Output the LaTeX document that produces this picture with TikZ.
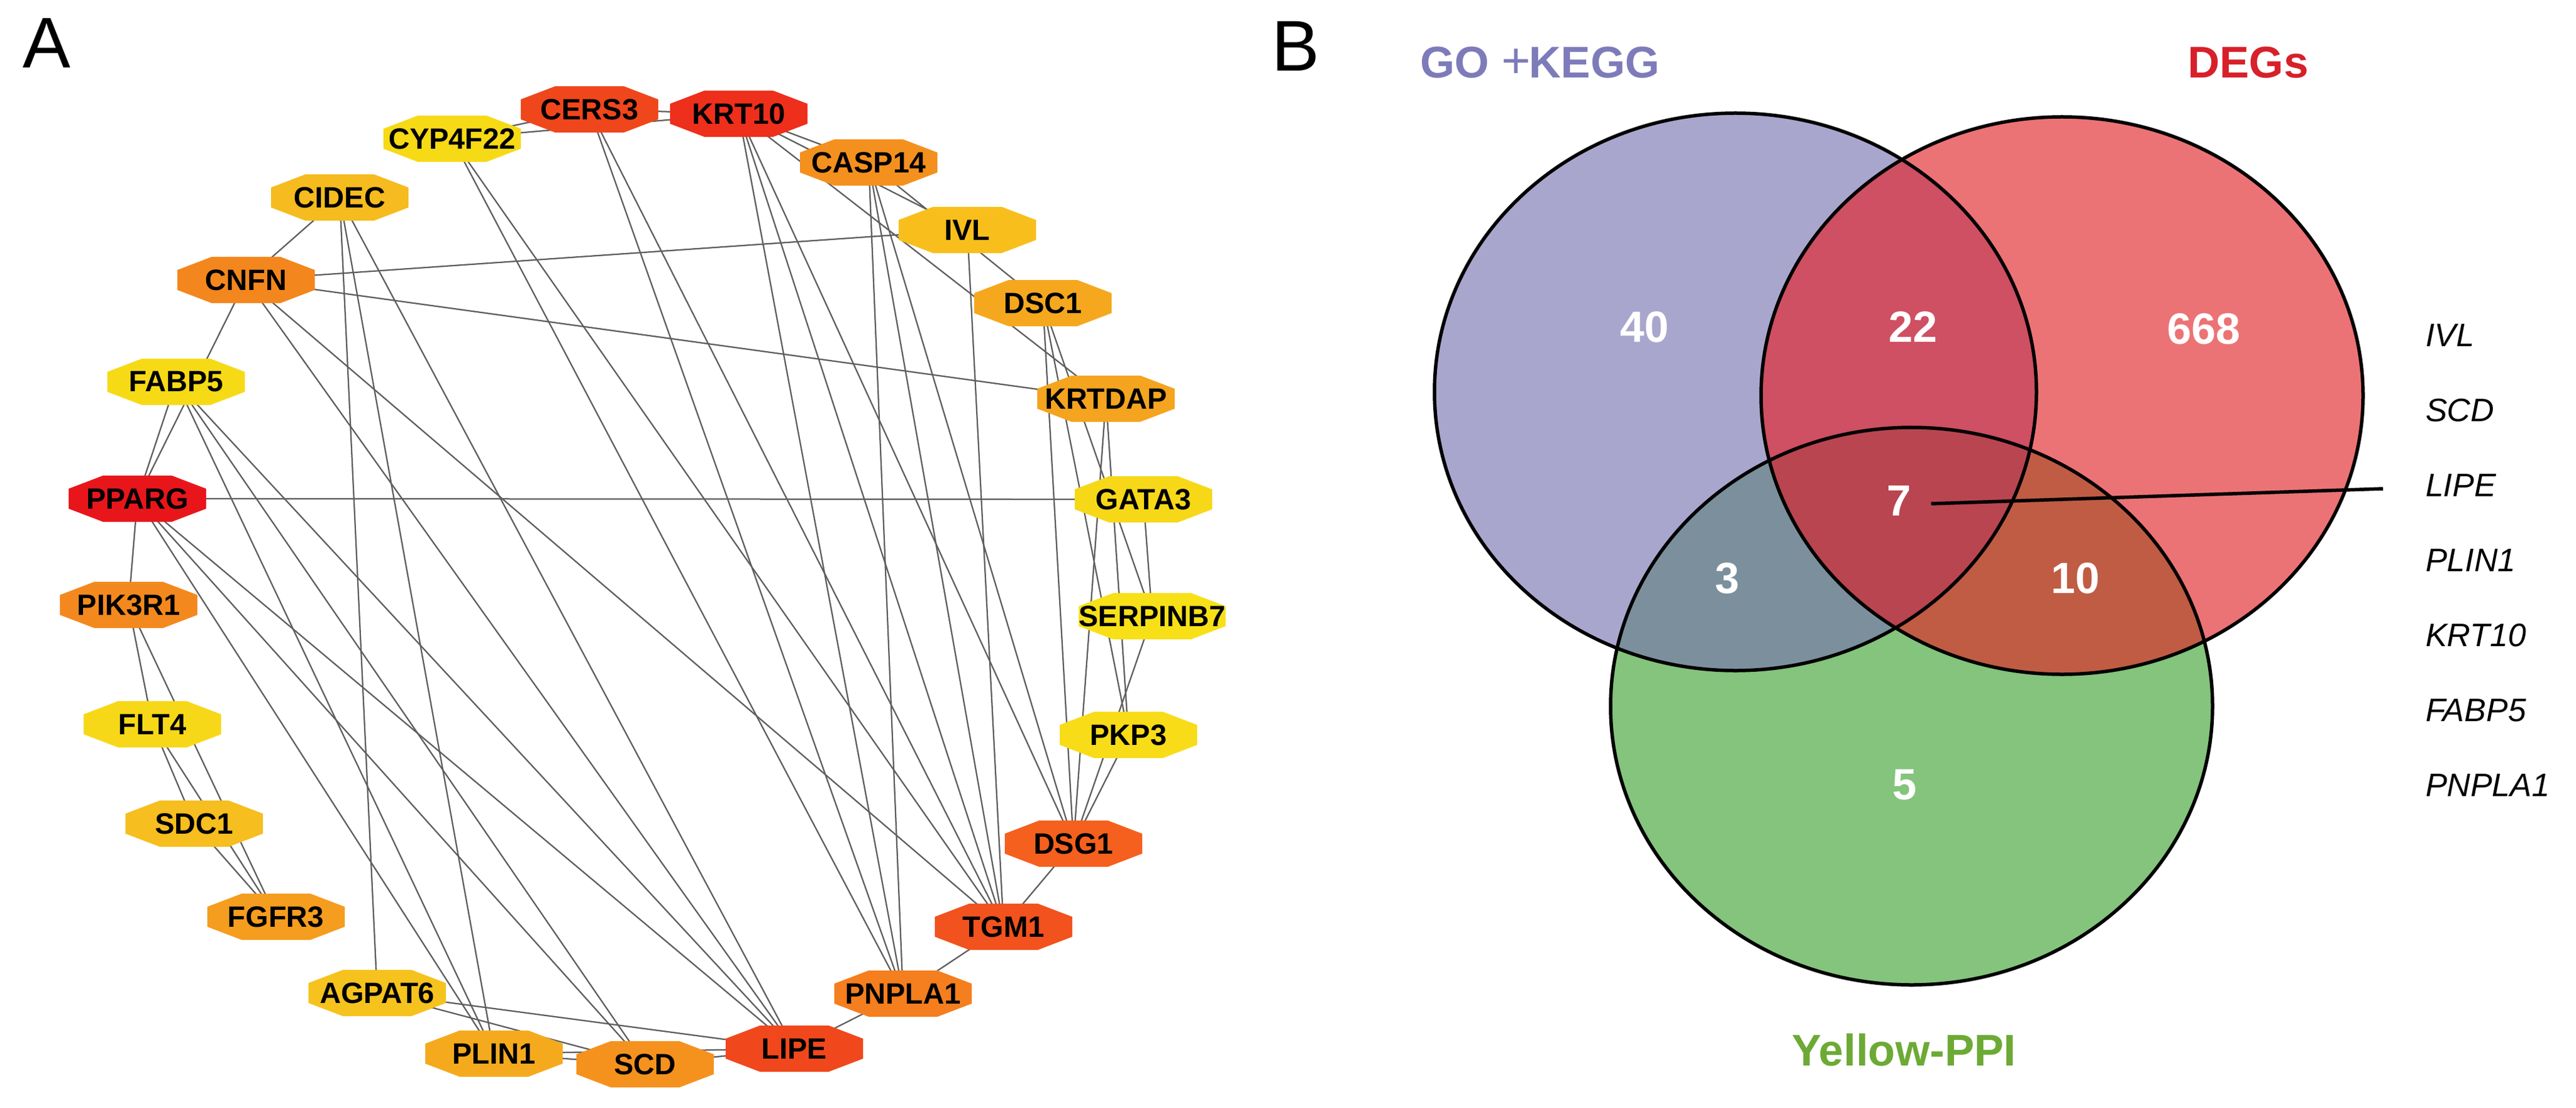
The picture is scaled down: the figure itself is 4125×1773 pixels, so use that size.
\documentclass[tikz,border=0pt]{standalone}
\usepackage{fontspec}
\setmainfont{Liberation Sans}
\usetikzlibrary{calc}
\pgfdeclarelayer{edgelayer}
\pgfsetlayers{edgelayer,main}
\definecolor{cPPARG}{HTML}{E8161B}
\definecolor{cKRT10}{HTML}{EE2F1C}
\definecolor{cCERS3}{HTML}{F0461C}
\definecolor{cLIPE}{HTML}{F0481C}
\definecolor{cTGM1}{HTML}{F2521E}
\definecolor{cDSG1}{HTML}{F5601E}
\definecolor{cPNPLA1}{HTML}{F57E1E}
\definecolor{cCNFN}{HTML}{F3871E}
\definecolor{cPIK3R1}{HTML}{F3891E}
\definecolor{cCASP14}{HTML}{F4901E}
\definecolor{cSCD}{HTML}{F5921E}
\definecolor{cFGFR3}{HTML}{F59D1E}
\definecolor{cKRTDAP}{HTML}{F4A41E}
\definecolor{cDSC1}{HTML}{F5A81E}
\definecolor{cPLIN1}{HTML}{F5AA1E}
\definecolor{cCIDEC}{HTML}{F6BB1E}
\definecolor{cIVL}{HTML}{F8BF1C}
\definecolor{cSDC1}{HTML}{F6BE1E}
\definecolor{cAGPAT6}{HTML}{F6C21E}
\definecolor{cCYP}{HTML}{F6DA16}
\definecolor{cFABP5}{HTML}{F6DA16}
\definecolor{cFLT4}{HTML}{F7D818}
\definecolor{cGATA3}{HTML}{F7D818}
\definecolor{cSERP}{HTML}{F8E018}
\definecolor{cPKP3}{HTML}{F8DC18}
\definecolor{edgegray}{HTML}{5E5E5E}
\definecolor{vP}{HTML}{A9A6CE}
\definecolor{vR}{HTML}{EC7375}
\definecolor{vG}{HTML}{84C47D}
\definecolor{vPR}{HTML}{CF4F63}
\definecolor{vPG}{HTML}{7B909C}
\definecolor{vRG}{HTML}{C05C44}
\definecolor{vPRG}{HTML}{B94550}
\definecolor{tP}{HTML}{7E7BBA}
\definecolor{tR}{HTML}{D7202A}
\definecolor{tG}{HTML}{6DAA35}
\newcommand\gfont{\fontsize{9.4}{9.4}\selectfont\bfseries}
\tikzset{
  gene/.style={minimum width=44pt, minimum height=14.8pt, inner sep=0pt, font=\gfont,
    path picture={
      \fill[#1] ([xshift=11pt]path picture bounding box.north west)
        -- ([xshift=-11pt]path picture bounding box.north east)
        -- ([yshift=-4.2pt]path picture bounding box.north east)
        -- ([yshift=4.2pt]path picture bounding box.south east)
        -- ([xshift=-11pt]path picture bounding box.south east)
        -- ([xshift=11pt]path picture bounding box.south west)
        -- ([yshift=4.2pt]path picture bounding box.south west)
        -- ([yshift=-4.2pt]path picture bounding box.north west) -- cycle;
    }},
  edge/.style={draw=edgegray, line width=0.45pt},
  panel/.style={font=\fontsize{23}{23}\selectfont, inner sep=0pt},
  venn/.style={draw=black, line width=1.1pt},
  num/.style={text=white, font=\fontsize{14}{14}\selectfont\bfseries, inner sep=0pt},
  setlabel/.style={font=\fontsize{14.2}{14.2}\selectfont\bfseries, inner sep=0pt},
  glist/.style={font=\fontsize{10.4}{10.4}\selectfont\itshape, inner sep=0pt, anchor=west}
}
\begin{document}
\begin{tikzpicture}[x=0.2pt,y=-0.2pt]
\useasboundingbox (0,0) rectangle (4125,1773);
% ---------- panel A ----------
\node[panel] (lblA) at (75,69) {A};
\node[gene=cCERS3]   (CERS3)    at (944,175)  {CERS3};
\node[gene=cKRT10]   (KRT10)    at (1183,182) {KRT10};
\node[gene=cCYP]     (CYP4F22)  at (724,222)  {CYP4F22};
\node[gene=cCASP14]  (CASP14)   at (1391,260) {CASP14};
\node[gene=cCIDEC]   (CIDEC)    at (544,316)  {CIDEC};
\node[gene=cIVL]     (IVL)      at (1549,368) {IVL};
\node[gene=cCNFN]    (CNFN)     at (394,448)  {CNFN};
\node[gene=cDSC1]    (DSC1)     at (1670,485) {DSC1};
\node[gene=cFABP5]   (FABP5)    at (282,611)  {FABP5};
\node[gene=cKRTDAP]  (KRTDAP)   at (1771,638) {KRTDAP};
\node[gene=cPPARG]   (PPARG)    at (220,798)  {PPARG};
\node[gene=cGATA3]   (GATA3)    at (1831,799) {GATA3};
\node[gene=cPIK3R1]  (PIK3R1)   at (206,968)  {PIK3R1};
\node[gene=cSERP]    (SERPINB7) at (1845,986) {SERPINB7};
\node[gene=cFLT4]    (FLT4)     at (244,1159) {FLT4};
\node[gene=cPKP3]    (PKP3)     at (1807,1176) {PKP3};
\node[gene=cSDC1]    (SDC1)     at (311,1318) {SDC1};
\node[gene=cDSG1]    (DSG1)     at (1719,1350) {DSG1};
\node[gene=cFGFR3]   (FGFR3)    at (442,1467) {FGFR3};
\node[gene=cTGM1]    (TGM1)     at (1607,1483) {TGM1};
\node[gene=cAGPAT6]  (AGPAT6)   at (604,1589) {AGPAT6};
\node[gene=cPNPLA1]  (PNPLA1)   at (1446,1590) {PNPLA1};
\node[gene=cPLIN1]   (PLIN1)    at (791,1686) {PLIN1};
\node[gene=cLIPE]    (LIPE)     at (1272,1678) {LIPE};
\node[gene=cSCD]     (SCD)      at (1033,1703) {SCD};
\begin{pgfonlayer}{edgelayer}
\foreach \a/\b in {CYP4F22/CERS3, CYP4F22/KRT10, CERS3/KRT10, CYP4F22/PNPLA1, CYP4F22/TGM1,
  CERS3/PNPLA1, CERS3/TGM1, KRT10/CASP14, KRT10/IVL, KRT10/KRTDAP, KRT10/PNPLA1, KRT10/TGM1,
  KRT10/DSG1, CASP14/DSC1, CASP14/PNPLA1, CASP14/TGM1, CASP14/DSG1, IVL/CNFN, IVL/TGM1,
  CNFN/CIDEC, CNFN/PPARG, CNFN/KRTDAP, CNFN/LIPE, CNFN/TGM1, CIDEC/AGPAT6, CIDEC/PLIN1,
  CIDEC/LIPE, FABP5/PPARG, FABP5/PLIN1, FABP5/SCD, FABP5/LIPE, PPARG/GATA3, PPARG/PIK3R1,
  PPARG/PLIN1, PPARG/SCD, PPARG/LIPE, PIK3R1/FLT4, PIK3R1/FGFR3, FLT4/SDC1, FLT4/FGFR3,
  SDC1/FGFR3, AGPAT6/SCD, AGPAT6/LIPE, PLIN1/SCD, PLIN1/LIPE, SCD/LIPE, LIPE/PNPLA1,
  PNPLA1/TGM1, TGM1/DSG1, DSC1/DSG1, DSC1/PKP3, DSC1/SERPINB7, KRTDAP/DSG1, KRTDAP/PKP3,
  GATA3/SERPINB7, SERPINB7/DSG1, PKP3/DSG1}
  \draw[edge] (\a.center) -- (\b.center);
\end{pgfonlayer}
% ---------- panel B ----------
\node[panel] (lblB) at (2075,74) {B};
\coordinate (cP) at (2779,627);
\coordinate (cR) at (3302,633);
\coordinate (cG) at (3061,1130);
\fill[vP] (cP) ellipse [x radius=96.4pt, y radius=89.2pt];
\fill[vR] (cR) ellipse [x radius=96.4pt, y radius=89.2pt];
\fill[vG] (cG) ellipse [x radius=96.4pt, y radius=89.2pt];
\begin{scope}
  \clip (cP) ellipse [x radius=96.4pt, y radius=89.2pt];
  \fill[vPR] (cR) ellipse [x radius=96.4pt, y radius=89.2pt];
\end{scope}
\begin{scope}
  \clip (cP) ellipse [x radius=96.4pt, y radius=89.2pt];
  \fill[vPG] (cG) ellipse [x radius=96.4pt, y radius=89.2pt];
\end{scope}
\begin{scope}
  \clip (cR) ellipse [x radius=96.4pt, y radius=89.2pt];
  \fill[vRG] (cG) ellipse [x radius=96.4pt, y radius=89.2pt];
\end{scope}
\begin{scope}
  \clip (cP) ellipse [x radius=96.4pt, y radius=89.2pt];
  \clip (cR) ellipse [x radius=96.4pt, y radius=89.2pt];
  \fill[vPRG] (cG) ellipse [x radius=96.4pt, y radius=89.2pt];
\end{scope}
\draw[venn] (cP) ellipse [x radius=96.4pt, y radius=89.2pt];
\draw[venn] (cR) ellipse [x radius=96.4pt, y radius=89.2pt];
\draw[venn] (cG) ellipse [x radius=96.4pt, y radius=89.2pt];
\node[setlabel, text=tP] (lGO) at (2466,100) {GO {\mdseries\fontsize{16}{16}\selectfont +}\kern-0.5pt KEGG};
\node[setlabel, text=tR] (lDEG) at (3600,100) {DEGs};
\node[setlabel, text=tG] (lPPI) at (3049,1680) {Yellow-PPI};
\node[num] (n40)  at (2633,523) {40};
\node[num] (n22)  at (3063,523) {22};
\node[num] (n668) at (3529,526) {668};
\node[num] (n7)   at (3041,801) {7};
\node[num] (n3)   at (2766,925) {3};
\node[num] (n10)  at (3323,925) {10};
\node[num] (n5)   at (3050,1256) {5};
\coordinate (lineEnd) at (3816,782);
\draw[line width=1.1pt] ([xshift=6.2pt,yshift=-1pt]n7.east) -- (lineEnd);
\node[glist] (gIVL)   at (3883,537)  {IVL};
\node[glist] (gSCD)   at (3883,657)  {SCD};
\node[glist] (gLIPE)  at (3883,777)  {LIPE};
\node[glist] (gPLIN1) at (3883,897)  {PLIN1};
\node[glist] (gKRT10) at (3883,1017) {KRT10};
\node[glist] (gFABP5) at (3883,1137) {FABP5};
\node[glist] (gPNPLA1) at (3883,1257) {PNPLA1};
\end{tikzpicture}
\end{document}
